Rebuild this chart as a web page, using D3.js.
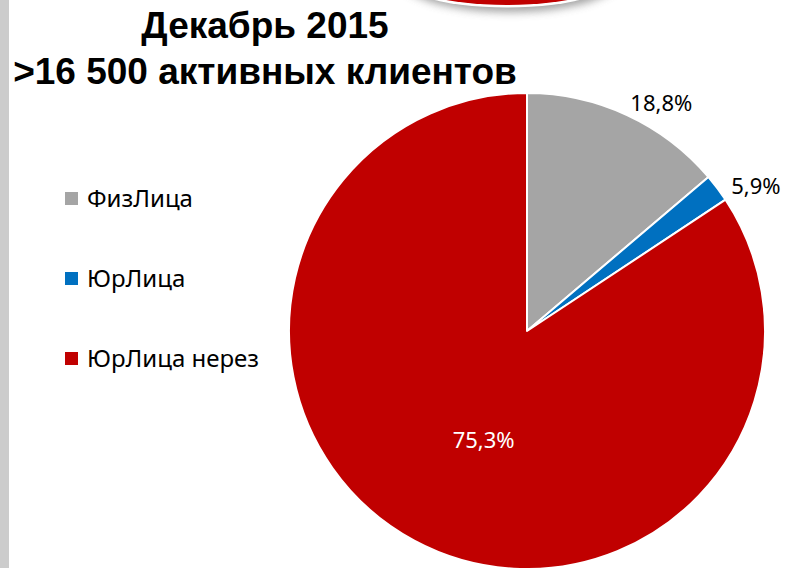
<!DOCTYPE html>
<html>
<head>
<meta charset="utf-8">
<script src="https://cdn.jsdelivr.net/npm/d3@7"></script>
<style>
  html, body { margin: 0; padding: 0; background: #ffffff; }
  svg { display: block; }
</style>
</head>
<body>
<script>
// ---- data ----
const categories = ["ФизЛица", "ЮрЛица", "ЮрЛица нерез"];
const sliceValues = [13.8, 1.9, 84.3];          // slice sizes as drawn in the picture
const labelTexts = ["18,8%", "5,9%", "75,3%"];  // data labels as printed
const colors = ["#a5a5a5", "#0070c0", "#c00000"];
const titleLines = ["Декабрь 2015", ">16 500 активных клиентов"];

// ---- layout ----
const W = 788, H = 568;
const cx = 527, cy = 331, R = 238;

const svg = d3.select("body").append("svg").attr("width", W).attr("height", H);

const defs = svg.append("defs");
const f = defs.append("filter").attr("id", "shadow").attr("x", "-30%").attr("y", "-30%").attr("width", "160%").attr("height", "180%");
f.append("feGaussianBlur").attr("stdDeviation", 4);

// left grey strip
svg.append("rect").attr("x", 0).attr("y", 0).attr("width", 9).attr("height", H).attr("fill", "#cccccc");

// decorative red badge at top
const badge = svg.append("g");
badge.append("ellipse").attr("cx", 510).attr("cy", -25).attr("rx", 114).attr("ry", 37)
  .attr("fill", "#8a8a8a").attr("filter", "url(#shadow)").attr("opacity", 0.8);
badge.append("ellipse").attr("cx", 507).attr("cy", -30).attr("rx", 121).attr("ry", 37.5).attr("fill", "#ffffff");
badge.append("ellipse").attr("cx", 507).attr("cy", -30).attr("rx", 118).attr("ry", 35).attr("fill", "#c00000");

// title
const title = svg.append("text").attr("text-anchor", "middle")
  .attr("font-family", "'Liberation Sans', Arial, sans-serif").attr("font-weight", "bold")
  .attr("font-size", 37).attr("fill", "#000");
title.selectAll("tspan").data(titleLines).join("tspan")
  .attr("x", 265).attr("y", (d, i) => 38 + i * 46).text(d => d);

// pie
const pie = d3.pie().sort(null).value(d => d);
const arcs = pie(sliceValues);
const arc = d3.arc().innerRadius(0).outerRadius(R);

const g = svg.append("g").attr("transform", `translate(${cx},${cy})`);
g.selectAll("path").data(arcs).join("path")
  .attr("d", arc)
  .attr("fill", (d, i) => colors[i])
  .attr("stroke", "#ffffff").attr("stroke-width", 2).attr("stroke-linejoin", "round");

// data labels
const labelRadius = [265, 265, R * 0.5];
const labelShift = [[23, 13], [17, 14], [13, 4]];
const labelColor = ["#000000", "#000000", "#ffffff"];
g.selectAll("text.lbl").data(arcs).join("text")
  .attr("class", "lbl")
  .attr("transform", (d, i) => {
    const c = d3.arc().innerRadius(labelRadius[i]).outerRadius(labelRadius[i]).centroid(d);
    return `translate(${c[0] + labelShift[i][0]},${c[1] + labelShift[i][1]})`;
  })
  .attr("text-anchor", "middle").attr("dy", "0.36em")
  .attr("font-family", "'Noto Sans', 'Open Sans', sans-serif").attr("font-size", 22)
  .attr("fill", (d, i) => labelColor[i])
  .text((d, i) => labelTexts[i]);

// legend
const legend = svg.append("g").attr("transform", "translate(65,198)");
const items = legend.selectAll("g").data(categories).join("g")
  .attr("transform", (d, i) => `translate(0,${i * 80})`);
items.append("rect").attr("x", 0).attr("y", -6).attr("width", 13).attr("height", 13)
  .attr("fill", (d, i) => colors[i]);
items.append("text").attr("x", 22).attr("y", 0).attr("dy", "0.36em")
  .attr("font-family", "'Noto Sans', 'Open Sans', sans-serif").attr("font-size", 24)
  .attr("fill", "#000").text(d => d);
</script>
</body>
</html>
